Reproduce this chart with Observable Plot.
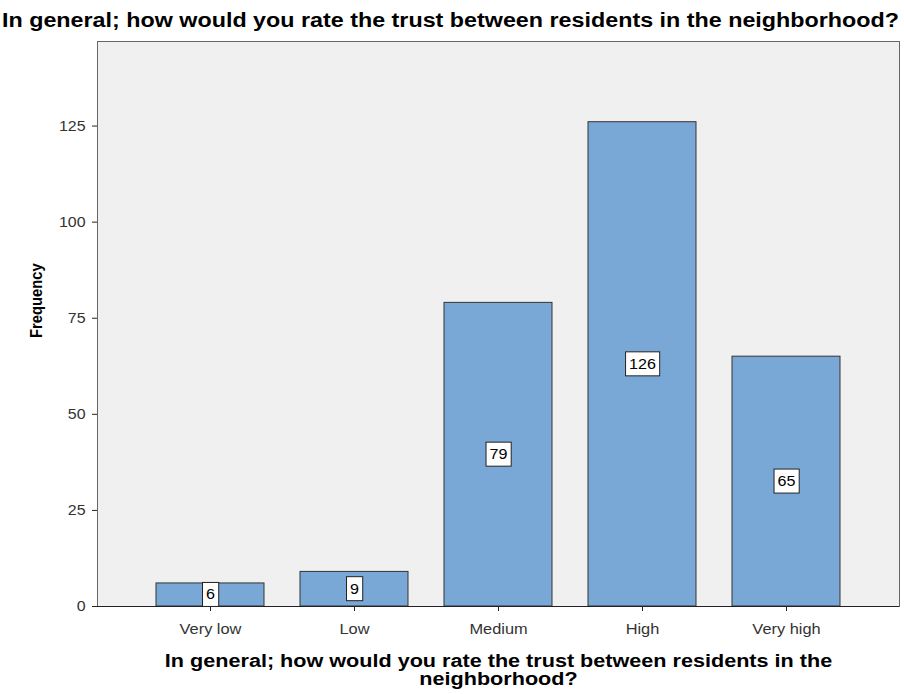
<!DOCTYPE html>
<html>
<head>
<meta charset="utf-8">
<script src="https://cdn.jsdelivr.net/npm/d3@7"></script>
<script src="https://cdn.jsdelivr.net/npm/@observablehq/plot@0.6"></script>
<style>
  body { margin: 0; background: #fff; }
  #title { font-family: "Liberation Sans", Arial, sans-serif; font-weight: bold; font-size: 19.5px;
           line-height: 18px; padding-top: 11px; height: 18px; padding-left: 2px; white-space: nowrap; color: #000; }
  #title span { display: inline-block; transform-origin: 0 50%; }
  svg { display: block; }
</style>
</head>
<body>
<div id="title"><span>In general; how would you rate the trust between residents in the neighborhood?</span></div>
<div id="chart"></div>
<script>
const categories = ["Very low", "Low", "Medium", "High", "Very high"];
const frequencies = [6, 9, 79, 126, 65];
const yTicks = [0, 25, 50, 75, 100, 125];
const xTitle = "In general; how would you rate the trust between residents in the\nneighborhood?";
const yTitle = "Frequency";

const data = categories.map((c, i) => ({category: c, value: frequencies[i]}));

const chart = Plot.plot({
  width: 904,
  height: 665,
  marginLeft: 97,
  marginRight: 5,
  marginTop: 12,
  marginBottom: 88,
  style: {fontFamily: "'Liberation Sans', Arial, sans-serif", background: "#fff"},
  x: {type: "band", domain: categories, paddingInner: 0.25, paddingOuter: 0.40},
  y: {domain: [0, 147]},
  marks: [
    Plot.frame({fill: "#f0f0f0", stroke: "#666"}),
    Plot.barY(data, {x: "category", y: "value", fill: "#79a8d6", stroke: "#333", strokeWidth: 1}),
    Plot.ruleX([0], {frameAnchor: "left", stroke: "#222"}),
    Plot.ruleY([0], {stroke: "#222"}),
    Plot.axisY({ticks: yTicks, tickSize: 5, tickPadding: 7, fontSize: 14, label: null, stroke: "#222", color: "#333", ariaDescription: "ylabels"}),
    Plot.axisX({tickSize: 5, tickPadding: 13, fontSize: 14, label: null, stroke: "#222", color: "#333", ariaDescription: "xlabels"}),
    Plot.text(data, {x: "category", y: d => d.value / 2, text: d => String(d.value), fontSize: 14, fill: "#000", ariaDescription: "barlabels"}),
    Plot.text([yTitle], {frameAnchor: "left", dx: -61, dy: 14, rotate: -90, fontSize: 17, fontWeight: "bold", fill: "#000", ariaDescription: "ytitle"}),
    Plot.text([xTitle], {frameAnchor: "bottom", dy: 64, lineAnchor: "middle", lineHeight: 1.0, fontSize: 18, fontWeight: "bold", fill: "#000", ariaDescription: "xtitle"})
  ]
});
document.getElementById("chart").appendChild(chart);

// the reference is horizontally stretched: widen the glyphs to match
function stretch(el, k) {
  const spans = el.querySelectorAll("tspan");
  const targets = spans.length ? Array.from(spans) : [el];
  targets.forEach(s => {
    const w = s.getComputedTextLength();
    s.setAttribute("textLength", w * k);
    s.setAttribute("lengthAdjust", "spacingAndGlyphs");
  });
}
chart.querySelectorAll('g[aria-description="xlabels"] text').forEach(t => stretch(t, 1.17));
chart.querySelectorAll('g[aria-description="ylabels"] text').forEach(t => stretch(t, 1.14));
chart.querySelectorAll('g[aria-description="xtitle"] text').forEach(t => stretch(t, 1.2));
chart.querySelectorAll('g[aria-description="ytitle"] text').forEach(t => stretch(t, 0.87));
chart.querySelectorAll('g[aria-description="barlabels"] text').forEach(t => stretch(t, 1.15));

// white boxes behind bar value labels
chart.querySelectorAll('g[aria-description="barlabels"] text').forEach(t => {
  const b = t.getBBox();
  const r = document.createElementNS("http://www.w3.org/2000/svg", "rect");
  const cy = b.y + b.height / 2;
  r.setAttribute("x", b.x - 3.5);
  r.setAttribute("y", cy - 12);
  r.setAttribute("width", b.width + 7);
  r.setAttribute("height", 24);
  r.setAttribute("fill", "#fff");
  r.setAttribute("stroke", "#222");
  r.setAttribute("stroke-width", 1);
  const tr = t.getAttribute("transform");
  if (tr) r.setAttribute("transform", tr);
  t.parentNode.insertBefore(r, t);
});

// fit the title to the reference width (x 2 → 899)
const ts = document.querySelector("#title span");
const tw = ts.getBoundingClientRect().width;
ts.style.transform = `scaleX(${897 / tw})`;
</script>
</body>
</html>
